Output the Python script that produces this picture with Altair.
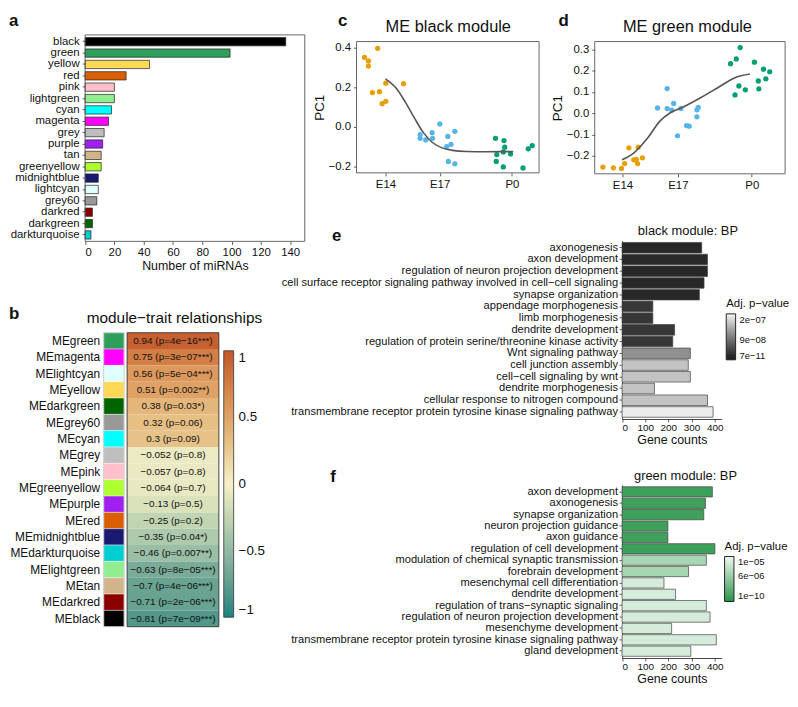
import altair as alt
import pandas as pd

# ---------------- data ----------------
# a: number of miRNAs per module
a_modules = ["black", "green", "yellow", "red", "pink", "lightgreen", "cyan", "magenta",
             "grey", "purple", "tan", "greenyellow", "midnightblue", "lightcyan", "grey60",
             "darkred", "darkgreen", "darkturquoise"]
a_counts = [137, 99, 44, 28, 20, 20, 18, 16, 13, 12, 11, 11, 9, 9, 8, 5, 5, 4]
a_colors = ["#000000", "#2e9e5b", "#ffd955", "#d95f02", "#ffc0cb", "#90ee90", "#00ffff",
            "#ff00ff", "#bebebe", "#a020f0", "#d2b48c", "#adff2f", "#191970", "#e0ffff",
            "#999999", "#8b0000", "#006400", "#00ced1"]
a_ticks = [0, 20, 40, 60, 80, 100, 120, 140]

# b: module-trait relationships
b_modules = ["MEgreen", "MEmagenta", "MElightcyan", "MEyellow", "MEdarkgreen", "MEgrey60",
             "MEcyan", "MEgrey", "MEpink", "MEgreenyellow", "MEpurple", "MEred",
             "MEmidnightblue", "MEdarkturquoise", "MElightgreen", "MEtan", "MEdarkred", "MEblack"]
b_colors = ["#2e9e5b", "#ff00ff", "#e0ffff", "#ffd955", "#006400", "#999999", "#00ffff",
            "#bebebe", "#ffc0cb", "#adff2f", "#a020f0", "#d95f02", "#191970", "#00ced1",
            "#90ee90", "#d2b48c", "#8b0000", "#000000"]
b_corr = [0.94, 0.75, 0.56, 0.51, 0.38, 0.32, 0.3, -0.052, -0.057, -0.064, -0.13, -0.25,
          -0.35, -0.46, -0.63, -0.7, -0.71, -0.81]
b_pvalue = ["4e−16", "3e−07", "5e−04", "0.002", "0.03", "0.06", "0.09", "0.8", "0.8", "0.7",
            "0.5", "0.2", "0.04", "0.007", "8e−05", "4e−06", "2e−06", "7e−09"]
b_stars = ["***", "***", "***", "**", "*", "", "", "", "", "", "", "", "*", "**", "***",
           "***", "***", "***"]
b_legend_ticks = [-1, -0.5, 0, 0.5, 1]
b_scale_stops = [-1, -0.5, 0, 0.5, 1]
b_scale_colors = ["#1d8280", "#93b9a4", "#f6efc9", "#e0a266", "#c4562a"]

# c, d: module eigengene PC1 by stage
stage_names = ["E14", "E17", "P0"]
stage_days = [14, 17, 21]
stage_colors = ["#e69f00", "#56b4e9", "#009e73"]

c_e14_day = [12.84, 13.06, 13.06, 13.57, 13.28, 13.67, 13.82, 14.02, 14.02, 15.0]
c_e14_pc1 = [0.352, 0.334, 0.308, 0.398, 0.173, 0.178, 0.117, 0.129, 0.221, 0.218]
c_e17_day = [15.92, 15.92, 16.23, 16.58, 16.61, 17.01, 17.45, 17.39, 17.63, 17.84, 17.48, 17.84]
c_e17_pc1 = [-0.040, -0.059, -0.067, -0.030, -0.059, 0.014, -0.049, -0.101, -0.089, -0.023,
             -0.176, -0.188]
c_p0_day = [20.09, 20.13, 20.16, 20.56, 20.60, 20.52, 20.52, 20.92, 21.61, 21.90, 22.12]
c_p0_pc1 = [-0.059, -0.176, -0.141, -0.070, -0.104, -0.128, -0.204, -0.138, -0.209, -0.112,
            -0.096]
c_fit_day = [14.0, 14.6, 15.1, 15.6, 16.1, 16.6, 17.1, 17.7, 18.5, 19.5, 21.07]
c_fit_pc1 = [0.243, 0.195, 0.125, 0.045, -0.030, -0.080, -0.106, -0.120, -0.126, -0.127, -0.126]
c_yticks = [-0.2, 0.0, 0.2, 0.4]

d_e14_day = [12.94, 13.51, 13.95, 14.12, 14.35, 14.61, 14.75, 14.82, 14.85, 15.08]
d_e14_pc1 = [-0.253, -0.257, -0.260, -0.237, -0.163, -0.219, -0.217, -0.237, -0.160, -0.210]
d_e17_day = [15.90, 16.42, 16.42, 16.67, 16.77, 16.98, 17.16, 17.47, 17.61, 18.03, 18.10, 18.03]
d_e17_pc1 = [0.025, 0.116, 0.022, 0.015, 0.046, -0.106, 0.022, -0.058, -0.061, 0.016, 0.027,
             -0.017]
d_p0_day = [19.85, 20.16, 20.37, 20.09, 20.30, 20.65, 21.14, 21.35, 21.38, 21.63, 21.76, 21.97]
d_p0_pc1 = [0.233, 0.255, 0.309, 0.086, 0.128, 0.110, 0.240, 0.152, 0.115, 0.207, 0.162, 0.195]
d_fit_day = [13.98, 14.64, 15.35, 16.04, 16.57, 17.26, 18.13, 19.18, 20.06, 20.90]
d_fit_pc1 = [-0.219, -0.185, -0.118, -0.036, 0.001, 0.028, 0.068, 0.121, 0.166, 0.184]
d_yticks = [-0.2, -0.1, 0.0, 0.1, 0.2, 0.3]

# e: black module GO:BP
e_terms = ["axonogenesis", "axon development", "regulation of neuron projection development",
           "cell surface receptor signaling pathway involved in cell−cell signaling",
           "synapse organization", "appendage morphogenesis", "limb morphogenesis",
           "dendrite development", "regulation of protein serine/threonine kinase activity",
           "Wnt signaling pathway", "cell junction assembly", "cell−cell signaling by wnt",
           "dendrite morphogenesis", "cellular response to nitrogen compound",
           "transmembrane receptor protein tyrosine kinase signaling pathway"]
e_counts = [344, 369, 369, 354, 334, 133, 133, 227, 219, 295, 286, 295, 140, 369, 393]
e_padj = [7e-11, 7e-11, 7e-11, 7e-11, 7e-11, 2e-08, 2e-08, 2e-08, 2e-08, 1.28e-07,
          1.83e-07, 1.83e-07, 1.83e-07, 1.83e-07, 2.25e-07]
e_legend_values = [2e-07, 9e-08, 7e-11]
e_legend_labels = ["2e−07", "9e−08", "7e−11"]

# f: green module GO:BP
f_terms = ["axon development", "axonogenesis", "synapse organization",
           "neuron projection guidance", "axon guidance", "regulation of cell development",
           "modulation of chemical synaptic transmission", "forebrain development",
           "mesenchymal cell differentiation", "dendrite development",
           "regulation of trans−synaptic signaling", "regulation of neuron projection development",
           "mesenchyme development",
           "transmembrane receptor protein tyrosine kinase signaling pathway",
           "gland development"]
f_counts = [390, 360, 353, 198, 198, 401, 364, 287, 181, 231, 364, 380, 214, 407, 297]
f_padj = [1e-10, 1e-10, 1e-10, 1e-10, 1e-10, 1e-10, 6.9e-06, 6.9e-06, 1.0e-05, 1.0e-05,
          1.0e-05, 1.0e-05, 1.0e-05, 1.0e-05, 1.0e-05]
f_legend_values = [1e-05, 6e-06, 1e-10]
f_legend_labels = ["1e−05", "6e−06", "1e−10"]
go_ticks = [0, 100, 200, 300, 400]

# ---------------- layout helpers ----------------
FONT = "Liberation Sans"
W, H = 786, 680


def X(px):
    return round(0.985 * px - 2, 2)


def Y(py):
    return round(0.96 * py - 1, 2)


ONE = alt.Data(values=[{}])


def label_expr(values, labels):
    expr = "''"
    for v, lab in zip(values, labels):
        expr = f"(abs(datum.value / ({v}) - 1) < 0.01) ? '{lab}' : ({expr})"
    return expr


def frame(x1, y1, x2, y2, color, width=0.9):
    return alt.Chart(ONE).mark_rect(fillOpacity=0, stroke=color, strokeWidth=width).encode(
        x=alt.value(X(x1)), x2=alt.value(X(x2)), y=alt.value(Y(y1)), y2=alt.value(Y(y2)))


def note(text, x, y, size, weight="normal", align="center", baseline="middle"):
    return alt.Chart(ONE).mark_text(text=text, fontSize=size, fontWeight=weight, font=FONT,
                                    align=align, baseline=baseline, color="#111111").encode(
        x=alt.value(X(x)), y=alt.value(Y(y)))


def stage_frame(days, pcs):
    rows = []
    for name, ds, ps in zip(stage_names, days, pcs):
        rows += [{"stage": name, "day": d, "pc1": p} for d, p in zip(ds, ps)]
    return pd.DataFrame(rows)


# ---------------- panel a ----------------
df_a = pd.DataFrame({"module": a_modules, "count": a_counts})
panel_a = alt.Chart(df_a).mark_bar(stroke="#222222", strokeWidth=0.7).encode(
    x=alt.X("count:Q",
            scale=alt.Scale(domain=[0, 150], range=[X(80), X(305)], nice=False),
            axis=alt.Axis(orient="bottom", offset=Y(240) - H, values=a_ticks, domain=False,
                          labelFontSize=11.5, labelPadding=2, title="Number of miRNAs",
                          titleFontSize=12.5, titlePadding=2)),
    y=alt.Y("module:N",
            scale=alt.Scale(domain=a_modules, range=[Y(23), Y(240.4)], paddingInner=0.27,
                            paddingOuter=0.235),
            axis=alt.Axis(orient="left", offset=-X(80), domain=False, labelFontSize=11.5,
                          labelPadding=3, title=None)),
    color=alt.Color("module:N", scale=alt.Scale(domain=a_modules, range=a_colors), legend=None),
)

# ---------------- panel b ----------------
b_label = [f"{str(c).replace('-', '−')} (p={p}{s})" for c, p, s in zip(b_corr, b_pvalue, b_stars)]
df_b = pd.DataFrame({"module": b_modules, "corr": b_corr, "label": b_label,
                     "swatch": "module", "cell": "trait"})


def b_yscale():
    return alt.Scale(domain=b_modules, range=[Y(336), Y(645)], paddingInner=0, paddingOuter=0)


def b_xscale():
    return alt.Scale(range=[X(123), X(217)], paddingInner=0, paddingOuter=0)


b_swatch = alt.Chart(df_b).mark_rect(stroke="white", strokeWidth=0.4).encode(
    x=alt.X("swatch:N", scale=alt.Scale(range=[X(99), X(120)], paddingInner=0, paddingOuter=0),
            axis=None),
    y=alt.Y("module:N", scale=b_yscale(),
            axis=alt.Axis(orient="left", offset=-X(99), domain=False, ticks=False, tickSize=0,
                          labelPadding=4, labelFontSize=12, title=None)),
    color=alt.Color("module:N", scale=alt.Scale(domain=b_modules, range=b_colors), legend=None),
)
b_cells = alt.Chart(df_b).mark_rect().encode(
    x=alt.X("cell:N", scale=b_xscale(), axis=None),
    y=alt.Y("module:N", scale=b_yscale(), axis=None),
    color=alt.Color("corr:Q", scale=alt.Scale(domain=b_scale_stops, range=b_scale_colors),
                    legend=alt.Legend(orient="none", legendX=X(222), legendY=Y(355), title=None,
                                      direction="vertical",
                                      gradientLength=Y(635) - Y(355), gradientThickness=10,
                                      values=b_legend_ticks, format=".1~f", labelFontSize=13.5,
                                      labelOffset=5, gradientStrokeColor="#333333",
                                      gradientStrokeWidth=0.8)),
)
b_text = alt.Chart(df_b).mark_text(fontSize=10, font=FONT, color="#111111").encode(
    x=alt.X("cell:N", scale=b_xscale(), axis=None),
    y=alt.Y("module:N", scale=b_yscale(), axis=None),
    text="label:N",
)


# ---------------- panels c, d ----------------
def pc_layers(df_pts, df_fit, left, right, top, bottom, xdom, ydom, yticks):
    xs = alt.Scale(domain=xdom, range=[X(left), X(right)], nice=False, zero=False)
    ys = alt.Scale(domain=ydom, range=[Y(bottom), Y(top)], nice=False, zero=False)
    pts = alt.Chart(df_pts).mark_circle(size=28, opacity=1).encode(
        x=alt.X("day:Q", scale=xs,
                axis=alt.Axis(orient="bottom", offset=Y(bottom) - H, values=stage_days,
                              labelExpr=label_expr(stage_days, stage_names), domain=False,
                              labelFontSize=11.5, labelPadding=3, title=None)),
        y=alt.Y("pc1:Q", scale=ys,
                axis=alt.Axis(orient="left", offset=-X(left), values=yticks, format=".1f",
                              domain=False, labelFontSize=11.5, labelPadding=3, title="PC1",
                              titleFontSize=13.5, titlePadding=2)),
        color=alt.Color("stage:N", scale=alt.Scale(domain=stage_names, range=stage_colors),
                        legend=None),
    )
    fit = alt.Chart(df_fit).mark_line(color="#555555", strokeWidth=1.6,
                                      interpolate="monotone").encode(
        x=alt.X("day:Q", scale=xs, axis=None),
        y=alt.Y("pc1:Q", scale=ys, axis=None),
    )
    return [pts, fit, frame(left, top, right, bottom, "#555555")]


df_c = stage_frame([c_e14_day, c_e17_day, c_p0_day], [c_e14_pc1, c_e17_pc1, c_p0_pc1])
df_c_fit = pd.DataFrame({"day": c_fit_day, "pc1": c_fit_pc1})
df_d = stage_frame([d_e14_day, d_e17_day, d_p0_day], [d_e14_pc1, d_e17_pc1, d_p0_pc1])
df_d_fit = pd.DataFrame({"day": d_fit_day, "pc1": d_fit_pc1})

panel_c = pc_layers(df_c, df_c_fit, 358, 545, 30, 168, [12.4, 22.5], [-0.234, 0.432], c_yticks)
panel_d = pc_layers(df_d, df_d_fit, 602, 797, 30, 169, [12.5, 22.8], [-0.285, 0.337], d_yticks)


# ---------------- panels e, f ----------------
def go_panel(terms, counts, padj, top, bottom, cdom, crange, leg_vals, leg_labels,
             leg_top, leg_bottom, leg_left):
    df = pd.DataFrame({"term": terms, "count": counts, "padj": padj})
    return alt.Chart(df).mark_bar(stroke="#444444", strokeWidth=0.7).encode(
        x=alt.X("count:Q", scale=alt.Scale(domain=[0, 430], range=[X(630), X(732)], nice=False),
                axis=alt.Axis(orient="bottom", offset=Y(bottom) - H, values=go_ticks,
                              labelFontSize=10, labelPadding=1, title="Gene counts",
                              titleFontSize=12.5, titlePadding=1)),
        y=alt.Y("term:N",
                scale=alt.Scale(domain=terms, range=[Y(top), Y(bottom)], paddingInner=0.1,
                                paddingOuter=0.15),
                axis=alt.Axis(orient="left", offset=-X(630), labelFontSize=11.2,
                              labelPadding=1.5, labelLimit=500, title=None)),
        color=alt.Color("padj:Q", scale=alt.Scale(domain=cdom, range=crange, clamp=True),
                        legend=alt.Legend(orient="none", legendX=X(leg_left),
                                          legendY=Y(leg_top) - 16, title="Adj. p−value",
                                          titleFontSize=11.5, titleFontWeight="normal",
                                          titlePadding=4, direction="vertical",
                                          gradientLength=Y(leg_bottom) - Y(leg_top),
                                          gradientThickness=9.5, values=leg_vals,
                                          labelExpr=label_expr(leg_vals, leg_labels),
                                          labelFontSize=9.5, labelOffset=4,
                                          gradientStrokeColor="#222222",
                                          gradientStrokeWidth=1)),
    )


panel_e = go_panel(e_terms, e_counts, e_padj, 239.3, 426.7, [-2e-08, 2.35e-07],
                   ["#1a1a1a", "#f5f5f5"], e_legend_values, e_legend_labels,
                   316.7, 365, 736.7)
panel_f = go_panel(f_terms, f_counts, f_padj, 496.1, 677.9, [-1.5e-06, 1.17e-05],
                   ["#1f9448", "#eef9f1"], f_legend_values, f_legend_labels,
                   571.7, 619, 735)

# ---------------- assemble ----------------
layers = [
    panel_a, frame(80, 23, 305, 240, "#555555"),
    b_swatch, b_cells, b_text,
    frame(99, 336, 120, 645, "#c8c8c8"), frame(123, 336, 217, 645, "#333333"),
    *panel_c, *panel_d, panel_e, panel_f,
    note("module−trait relationships", 171.5, 320.5, 15.5),
    note("ME black module", 452, 15, 16.5),
    note("ME green module", 697, 15, 16.5),
    note("black module: BP", 697.5, 229, 13),
    note("green module: BP", 695, 486.7, 13),
    note("a", 2, 13.5, 17, "bold", "left", "alphabetic"),
    note("b", 2, 321.7, 17, "bold", "left", "alphabetic"),
    note("c", 339, 13.3, 17, "bold", "left", "alphabetic"),
    note("d", 565, 13.3, 17, "bold", "left", "alphabetic"),
    note("e", 333, 239.3, 17, "bold", "left", "alphabetic"),
    note("f", 331, 492.7, 17, "bold", "left", "alphabetic"),
]

chart = alt.layer(*layers).resolve_scale(
    x="independent", y="independent", color="independent"
).properties(
    width=W, height=H, padding=0, background="white"
).configure_view(
    stroke=None
).configure_axis(
    grid=False, domainColor="#333333", tickColor="#333333", labelColor="#111111",
    titleColor="#111111", titleFontWeight="normal", labelFont=FONT, titleFont=FONT,
    tickSize=3, domainWidth=0.9, tickWidth=0.8
).configure_legend(
    labelFont=FONT, titleFont=FONT, labelColor="#111111", titleColor="#111111"
)

chart.save("out.html", embed_options={"renderer": "svg", "actions": False})
